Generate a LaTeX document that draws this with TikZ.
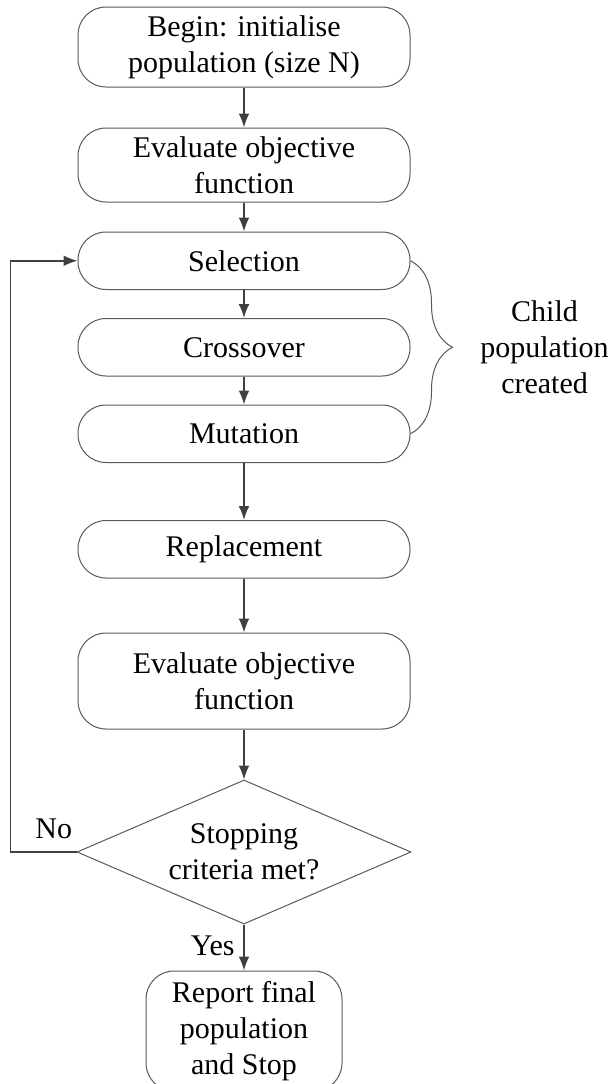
\documentclass[tikz,border=0pt]{standalone}
\usepackage{fontspec}
\setmainfont{Liberation Serif}
\usetikzlibrary{arrows.meta,shapes.geometric,positioning,decorations.pathreplacing}

\begin{document}
\begin{tikzpicture}[
        font=\fontsize{15pt}{18pt}\selectfont,
        process/.style={
                draw=black!65,
                line width=0.5pt,
                rounded corners=14pt,
                align=center,
                minimum width=166pt,
                minimum height=28.75pt,
                inner sep=0pt
            },
        decision/.style={
                draw=black!65,
                line width=0.5pt,
                diamond,
                aspect=2.32,
                align=center,
                minimum width=167pt,
                minimum height=72pt,
                inner sep=0pt
            },
        flow/.style={
                draw=black!75,
                line width=0.9pt,
                -{Latex[length=7pt,width=5.5pt]}
            },
        remark/.style={
                inner sep=0pt,
                align=center
            }
    ]
    \useasboundingbox (0,0) rectangle (305.5pt,-542pt);
    % Main loop
    \node[process, minimum height=40pt] (begin) at (122pt,-23.5pt) {Begin: initialise\\population (size N)};
    \node[process, minimum height=37pt, below=20pt of begin] (evalA) {Evaluate objective\\function};
    \node[process, below=14.5pt of evalA] (select) {Selection};
    \node[process, below=14pt of select] (cross) {Crossover};
    \node[process, below=14pt of cross] (mutate) {Mutation};
    \node[process, below=28.5pt of mutate] (replace) {Replacement};
    \node[process, minimum height=48pt, below=27pt of replace] (evalB) {Evaluate objective\\function};
    \node[decision, below=25pt of evalB] (stop) {Stopping\\criteria met?};
    \node[process, minimum width=98pt, minimum height=60pt, below=23pt of stop] (report) {Report final\\population\\and Stop};

    \draw[flow] (begin) -- (evalA);
    \draw[flow] (evalA) -- (select);
    \draw[flow] (select) -- (cross);
    \draw[flow] (cross) -- (mutate);
    \draw[flow] (mutate) -- (replace);
    \draw[flow] (replace) -- (evalB);
    \draw[flow] (evalB) -- (stop);
    \draw[flow] (stop) -- (report);
    \draw[flow] (stop.west) -- ++(-33pt,0) |- (select.west);

    \node[remark, above left=6.5pt and 2pt of stop.west] (no) {No};
    \node[remark, below left=5.5pt and 4.5pt of stop.south] (yes) {Yes};

    % Child population
    \draw[draw=black!65, line width=0.5pt, decorate, decoration={brace, amplitude=21pt}]
        (select.east) -- coordinate (bracemid) (mutate.east);
    \node[remark, right=34.75pt of bracemid] (child) {Child\\population\\created};
\end{tikzpicture}
\end{document}
